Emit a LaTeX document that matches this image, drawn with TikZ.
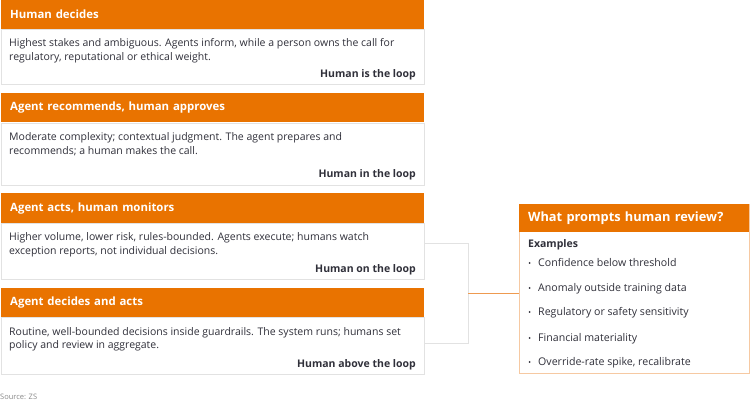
\documentclass[tikz,border=0pt]{standalone}
\usepackage{fontspec}
\setmainfont{Open Sans}
\definecolor{zsorange}{HTML}{E97300}
\definecolor{linkorange}{HTML}{EE9A50}
\definecolor{txt}{HTML}{30303A}
\definecolor{gborder}{HTML}{E2E2E2}
\definecolor{oborder}{HTML}{F6C9A2}
\definecolor{srcgray}{HTML}{8A8A8A}
\begin{document}
\begin{tikzpicture}[x=1pt,y=-1pt,
  hdr/.style={rectangle,fill=zsorange,anchor=north west,inner ysep=0pt,inner xsep=9pt,
    text width=405pt,minimum height=29pt,align=left,text=white,
    font=\fontsize{11.4}{14}\selectfont\bfseries},
  bodybox/.style={rectangle,draw=gborder,line width=0.8pt,fill=white,anchor=north west,
    minimum width=423pt,inner sep=0pt},
  bodyline/.style={anchor=base west,inner sep=0pt,text=txt,font=\fontsize{10.5}{14}\selectfont},
  looplabel/.style={anchor=base east,inner sep=0pt,text=txt,font=\fontsize{10.5}{14}\selectfont\bfseries},
  bullet/.style={anchor=base west,inner sep=0pt,text=txt,font=\fontsize{10.6}{14}\selectfont},
  dotmark/.style={circle,fill=txt,inner sep=0pt,minimum size=2pt},
  bracket/.style={draw=gborder,line width=0.8pt},
  link/.style={draw=linkorange,line width=0.9pt}
]
\useasboundingbox (0,0) rectangle (750,403);
\fill[white] (0,0) rectangle (750,403);

% Box 1
\node[bodybox,minimum height=55pt] (b1) at (1,29) {};
\node[hdr] (h1) at (1,0) {Human decides};
\node[bodyline] (b1l1) at (9,46.5) {Highest stakes and ambiguous. Agents inform, while a person owns the call for};
\node[bodyline] (b1l2) at (9,60.5) {regulatory, reputational or ethical weight.};
\node[looplabel] (lab1) at (416,78) {Human is the loop};

% Box 2
\node[bodybox,minimum height=62pt] (b2) at (1,123) {};
\node[hdr] (h2) at (1,93) {Agent recommends, human approves};
\node[bodyline] (b2l1) at (9,140.5) {Moderate complexity; contextual judgment. The agent prepares and};
\node[bodyline] (b2l2) at (9,154.5) {recommends; a human makes the call.};
\node[looplabel] (lab2) at (416,178) {Human in the loop};

% Box 3
\node[bodybox,minimum height=56pt] (b3) at (1,223) {};
\node[hdr,minimum height=30pt] (h3) at (1,193) {Agent acts, human monitors};
\node[bodyline] (b3l1) at (9,240.5) {Higher volume, lower risk, rules-bounded. Agents execute; humans watch};
\node[bodyline] (b3l2) at (9,255) {exception reports, not individual decisions.};
\node[looplabel] (lab3) at (416,273) {Human on the loop};

% Box 4
\node[bodybox,minimum height=57pt] (b4) at (1,317) {};
\node[hdr] (h4) at (1,288) {Agent decides and acts};
\node[bodyline] (b4l1) at (9,335.5) {Routine, well-bounded decisions inside guardrails. The system runs; humans set};
\node[bodyline] (b4l2) at (9,349) {policy and review in aggregate.};
\node[looplabel] (lab4) at (416,367) {Human above the loop};

% Right panel
\node[rectangle,draw=oborder,line width=0.9pt,fill=white,anchor=north west,
  minimum width=230pt,minimum height=169pt,inner sep=0pt] (rp) at (519,204) {};
\node[rectangle,fill=zsorange,anchor=north west,inner ysep=0pt,inner xsep=9pt,
  text width=212pt,minimum height=28pt,align=left,text=white,
  font=\fontsize{12.8}{15}\selectfont\bfseries] (rh) at (519,204) {What prompts human review?};
\node[anchor=base west,inner sep=0pt,text=txt,font=\fontsize{10.5}{14}\selectfont\bfseries] (ex) at (528,248) {Examples};
\foreach \i/\yy/\t in {1/267/Confidence below threshold,
  2/292/Anomaly outside training data,
  3/316/Regulatory or safety sensitivity,
  4/342/Financial materiality,
  5/366/Override-rate spike{,} recalibrate}{
  \node[dotmark] (d\i) at (529.5,\yy-4) {};
  \node[bullet] (t\i) at (538,\yy) {\t};
}

% Bracket connector
\coordinate (bt) at (468,243);
\coordinate (bb) at (468,343);
\coordinate (bm) at (468,293);
\draw[bracket] (b3.east |- bt) -- (bt) -- (bb) -- (b4.east |- bb);
\draw[link] (bm) -- (rp.west |- bm);

% Source
\node[anchor=west,inner sep=0pt,text=srcgray,font=\fontsize{7.5}{9}\selectfont] (src) at (0,397) {Source: ZS};
\end{tikzpicture}
\end{document}
